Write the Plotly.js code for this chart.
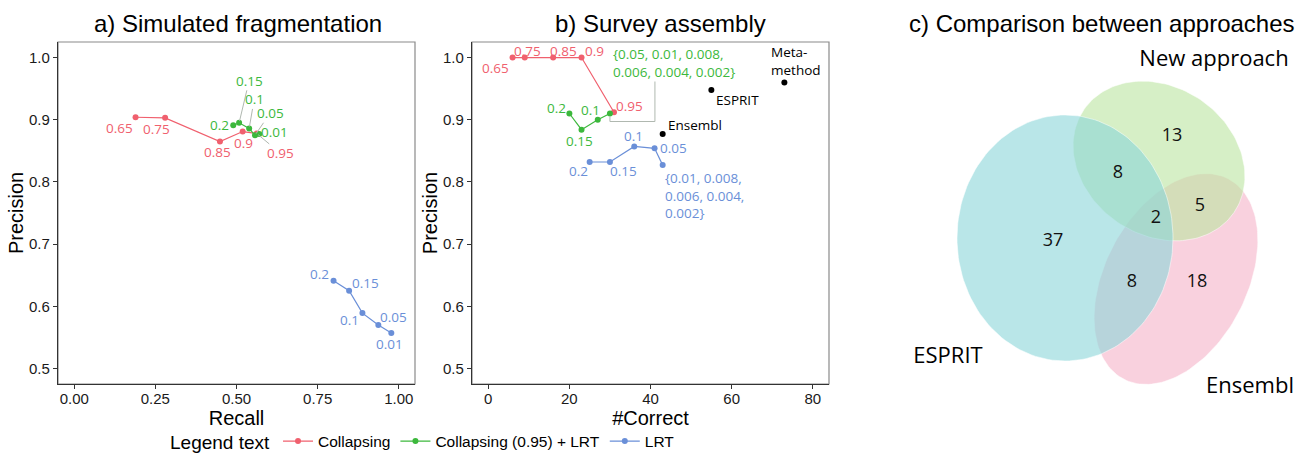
<!DOCTYPE html>
<html>
<head>
<meta charset="utf-8">
<script src="https://cdn.plot.ly/plotly-3.0.1.min.js"></script>
<style>html,body{margin:0;padding:0;background:#fff;}#chart{width:1302px;height:453px;}</style>
</head>
<body>
<div id="chart"></div>
<script>
// ---------- DATA ----------
// Panel a) Simulated fragmentation
const aCollapseLabels = ['0.65', '0.75', '0.85', '0.9', '0.95'];
const aCollapseRecall = [0.189, 0.280, 0.449, 0.519, 0.562];
const aCollapsePrec   = [0.904, 0.903, 0.865, 0.881, 0.878];

const aCombLabels = ['0.2', '0.15', '0.1', '0.05', '0.01'];
const aCombRecall = [0.490, 0.508, 0.539, 0.557, 0.570];
const aCombPrec   = [0.891, 0.895, 0.886, 0.875, 0.877];

const aLrtLabels = ['0.2', '0.15', '0.1', '0.05', '0.01'];
const aLrtRecall = [0.799, 0.847, 0.888, 0.937, 0.977];
const aLrtPrec   = [0.641, 0.625, 0.589, 0.570, 0.557];

// Panel b) Survey assembly
const bCollapseLabels  = ['0.65', '0.75', '0.85', '0.9', '0.95'];
const bCollapseCorrect = [6, 9, 16, 23, 31];
const bCollapsePrec    = [1.0, 1.0, 1.0, 1.0, 0.912];

const bCombLabels  = ['0.2', '0.15', '0.1', '{0.05, 0.01, 0.008,<br>0.006, 0.004, 0.002}'];
const bCombCorrect = [20, 23, 27, 30];
const bCombPrec    = [0.910, 0.884, 0.900, 0.910];

const bLrtLabels  = ['0.2', '0.15', '0.1', '0.05', '{0.01, 0.008,<br>0.006, 0.004,<br>0.002}'];
const bLrtCorrect = [25, 30, 36, 41, 43];
const bLrtPrec    = [0.832, 0.832, 0.857, 0.854, 0.827];

const refMethods = ['Ensembl', 'ESPRIT', 'Meta-<br>method'];
const refCorrect = [43, 55, 73];
const refPrec    = [0.877, 0.948, 0.960];

// Panel c) Venn diagram
const vennSets = ['ESPRIT', 'New approach', 'Ensembl'];
const vennRegions = ['ESPRIT only', 'New only', 'Ensembl only', 'ESPRIT&New', 'ESPRIT&Ensembl', 'New&Ensembl', 'All'];
const vennCounts = [37, 13, 18, 8, 8, 5, 2];

const seriesNames = ['Collapsing', 'Collapsing (0.95) + LRT', 'LRT'];

// ---------- STYLE / LAYOUT ----------
const colRed = '#f0606e', colGreen = '#3cb83c', colBlue = '#6a8fd8';
const leaderCol = '#b0b8b0';
const labelFont = 'Open Sans, Noto Sans, sans-serif';
const mainFont = 'Liberation Sans, Arial, sans-serif';
const W = 1302, H = 453;
const px = v => v / W, py = v => 1 - v / H;

// label offsets (pixels, text centre relative to point) and leader-line flags
const aCollapseOff = [[-16, 11, 0], [-9, 11, 0], [-2, 11, 0], [1, 11, 0], [24, 20, 1]];
const aCombOff     = [[-14, 0, 0], [10, -42, 1], [5, -29, 1], [15, -22, 1], [15, -2, 0]];
const aLrtOff      = [[-14, -7, 0], [16, -8, 0], [-13, 7, 0], [15, -8, 0], [-2, 11, 0]];
const bCollapseOff = [[-17, 10, 0], [3, -7, 0], [10, -7, 0], [13, -7, 0], [16, -6, 0]];
const bCombOff     = [[-13, -6, 0], [-2, 11, 0], [-7, -10, 0], [64, -51, 0]];
const bLrtOff      = [[-11, 9, 0], [14, 9, 0], [-1, -10, 0], [19, 0, 0], [42, 30, 0]];
const refOff       = [[32, -9, 0], [26, 10, 0], [12, -21, 0]];

// panel geometry (pixels)
const A = {x0: 58, x1: 415, y0: 42, y1: 384};
const B = {x0: 472, x1: 829, y0: 42, y1: 384};

function series(x, y, color, name, xa, ya, show) {
  return {
    x: x, y: y, type: 'scatter', mode: 'lines+markers', name: name,
    xaxis: xa, yaxis: ya, showlegend: show, hoverinfo: 'skip',
    line: {color: color, width: 1.2}, marker: {color: color, size: 6}
  };
}

const traces = [
  series(aCollapseRecall, aCollapsePrec, colRed, seriesNames[0], 'x', 'y', true),
  series(aCombRecall, aCombPrec, colGreen, seriesNames[1], 'x', 'y', true),
  series(aLrtRecall, aLrtPrec, colBlue, seriesNames[2], 'x', 'y', true),
  series(bCollapseCorrect, bCollapsePrec, colRed, seriesNames[0], 'x2', 'y2', false),
  series(bCombCorrect, bCombPrec, colGreen, seriesNames[1], 'x2', 'y2', false),
  series(bLrtCorrect, bLrtPrec, colBlue, seriesNames[2], 'x2', 'y2', false),
  {x: refCorrect, y: refPrec, type: 'scatter', mode: 'markers', xaxis: 'x2', yaxis: 'y2',
   showlegend: false, hoverinfo: 'skip', marker: {color: '#000', size: 6}}
];

// ---------- annotations ----------
const annotations = [];
function addLabels(labels, xs, ys, offs, color, xref, yref, align) {
  labels.forEach((t, i) => {
    const o = offs[i];
    annotations.push({
      text: t, x: xs[i], y: ys[i], xref: xref, yref: yref,
      showarrow: true, ax: o[0], ay: o[1], arrowhead: 0, arrowwidth: 1, standoff: 2,
      arrowcolor: o[2] ? leaderCol : 'rgba(0,0,0,0)',
      font: {family: labelFont, size: 13.5, color: color}, align: align || 'left',
      borderpad: 0
    });
  });
}
addLabels(aCollapseLabels, aCollapseRecall, aCollapsePrec, aCollapseOff, colRed, 'x', 'y');
addLabels(aCombLabels, aCombRecall, aCombPrec, aCombOff, colGreen, 'x', 'y');
addLabels(aLrtLabels, aLrtRecall, aLrtPrec, aLrtOff, colBlue, 'x', 'y');
addLabels(bCollapseLabels, bCollapseCorrect, bCollapsePrec, bCollapseOff, colRed, 'x2', 'y2');
addLabels(bCombLabels, bCombCorrect, bCombPrec, bCombOff, colGreen, 'x2', 'y2');
addLabels(bLrtLabels, bLrtCorrect, bLrtPrec, bLrtOff, colBlue, 'x2', 'y2');
addLabels(refMethods, refCorrect, refPrec, refOff, '#000', 'x2', 'y2');

// panel titles
const titles = [
  ['a) Simulated fragmentation', 238],
  ['b) Survey assembly', 660],
  ['c) Comparison between approaches', 1102]
];
titles.forEach(t => annotations.push({
  text: t[0], xref: 'paper', yref: 'paper', x: px(t[1]), y: py(23),
  xanchor: 'center', yanchor: 'middle', showarrow: false,
  font: {family: mainFont, size: 24, color: '#000'}
}));

// elbow leader line for the grouped green label in panel b (anchored at the last green point)
const gi = bCombCorrect.length - 1;
const elbow = {
  type: 'path', xref: 'x2', yref: 'y2', xsizemode: 'pixel', ysizemode: 'pixel',
  xanchor: bCombCorrect[gi], yanchor: bCombPrec[gi],
  path: 'M0,-3 L0,-8 L45,-8 L45,32', line: {color: leaderCol, width: 1}
};

// ---------- Venn (panel c, pixel-like axes) ----------
const vennShapes = [ // cx, cy, a, b, theta(deg, screen), colour
  {cx: 1176, cy: 279, a: 113, b: 71, th: -62.4, col: 'rgba(245,178,200,0.6)'},
  {cx: 1159, cy: 161, a: 91, b: 74, th: 34.5, col: 'rgba(187,228,160,0.6)'},
  {cx: 1065, cy: 238, a: 108, b: 123, th: 0, col: 'rgba(138,213,217,0.6)'}
];
const vennSetIdx = [2, 1, 0];
function ellipse(e) {
  const xs = [], ys = [], th = e.th * Math.PI / 180;
  for (let k = 0; k <= 160; k++) {
    const t = 2 * Math.PI * k / 160;
    xs.push(e.cx + e.a * Math.cos(t) * Math.cos(th) - e.b * Math.sin(t) * Math.sin(th));
    ys.push(e.cy + e.a * Math.cos(t) * Math.sin(th) + e.b * Math.sin(t) * Math.cos(th));
  }
  return {xs, ys};
}
vennShapes.forEach((e, i) => {
  const p = ellipse(e);
  traces.push({x: p.xs, y: p.ys, type: 'scatter', mode: 'lines', fill: 'toself',
    fillcolor: e.col, line: {color: 'rgba(255,255,255,0.5)', width: 1},
    xaxis: 'x3', yaxis: 'y3', showlegend: false, hoverinfo: 'skip', name: vennSets[vennSetIdx[i]]});
});
const vennCountPos = [[1053, 241], [1172, 136], [1197, 282], [1118, 173], [1132, 282], [1200, 206], [1156, 218]];
traces.push({
  x: vennCountPos.map(p => p[0]), y: vennCountPos.map(p => p[1]),
  text: vennCounts.map(String), customdata: vennRegions,
  type: 'scatter', mode: 'text', xaxis: 'x3', yaxis: 'y3', showlegend: false, hoverinfo: 'skip',
  textfont: {family: labelFont, size: 18, color: '#111'}
});
const vennSetPos = [[948, 357], [1214, 60], [1250, 387]];
traces.push({
  x: vennSetPos.map(p => p[0]), y: vennSetPos.map(p => p[1]), text: vennSets,
  type: 'scatter', mode: 'text', xaxis: 'x3', yaxis: 'y3', showlegend: false, hoverinfo: 'skip',
  textfont: {family: labelFont, size: 22, color: '#000'}
});

// ---------- axes ----------
const axisCommon = {
  showgrid: false, zeroline: false, showline: true, linecolor: '#333', linewidth: 1.2,
  ticks: 'outside', ticklen: 4, tickcolor: '#333', tickwidth: 1,
  tickfont: {family: mainFont, size: 15, color: '#1a1a1a'}, fixedrange: true
};
const ttlFont = {family: mainFont, size: 20, color: '#000'};
const yRange = [0.475, 1.025];

const frames = [A, B].map(p => ({
  type: 'rect', xref: 'paper', yref: 'paper', x0: px(p.x0), x1: px(p.x1), y0: py(p.y1), y1: py(p.y0),
  line: {color: '#8a8a8a', width: 1.2}, layer: 'below'
}));

const layout = {
  width: W, height: H, margin: {l: 0, r: 0, t: 0, b: 0, autoexpand: false},
  paper_bgcolor: '#fff', plot_bgcolor: 'rgba(0,0,0,0)',
  font: {family: mainFont, color: '#000'},
  xaxis: Object.assign({}, axisCommon, {
    domain: [px(A.x0), px(A.x1)], range: [-0.05, 1.05], anchor: 'y',
    tickvals: [0, 0.25, 0.5, 0.75, 1], tickformat: '.2f', ticklabelstandoff: -3,
    title: {text: 'Recall', font: ttlFont, standoff: 0}
  }),
  yaxis: Object.assign({}, axisCommon, {
    domain: [py(A.y1), py(A.y0)], range: yRange, anchor: 'x', dtick: 0.1, tickformat: '.1f',
    title: {text: 'Precision', font: ttlFont, standoff: 0}
  }),
  xaxis2: Object.assign({}, axisCommon, {
    domain: [px(B.x0), px(B.x1)], range: [-4, 84], anchor: 'y2', dtick: 20, ticklabelstandoff: -3,
    title: {text: '#Correct', font: ttlFont, standoff: 0}
  }),
  yaxis2: Object.assign({}, axisCommon, {
    domain: [py(B.y1), py(B.y0)], range: yRange, anchor: 'x2', dtick: 0.1, tickformat: '.1f',
    title: {text: 'Precision', font: ttlFont, standoff: 0}
  }),
  xaxis3: {domain: [px(860), 1], range: [860, 1302], visible: false, anchor: 'y3', fixedrange: true},
  yaxis3: {domain: [0, 1], range: [H, 0], visible: false, anchor: 'x3', fixedrange: true},
  shapes: frames.concat([elbow]),
  annotations: annotations,
  showlegend: true,
  legend: {
    orientation: 'h', x: px(168), xanchor: 'left', y: py(442), yanchor: 'middle',
    title: {text: 'Legend text', font: {family: mainFont, size: 19, color: '#000'}, side: 'left'},
    font: {family: mainFont, size: 15.5, color: '#000'},
    itemwidth: 30, bgcolor: 'rgba(0,0,0,0)', tracegroupgap: 0
  },
  hovermode: false
};

Plotly.newPlot('chart', traces, layout, {staticPlot: true, displayModeBar: false});
</script>
</body>
</html>
